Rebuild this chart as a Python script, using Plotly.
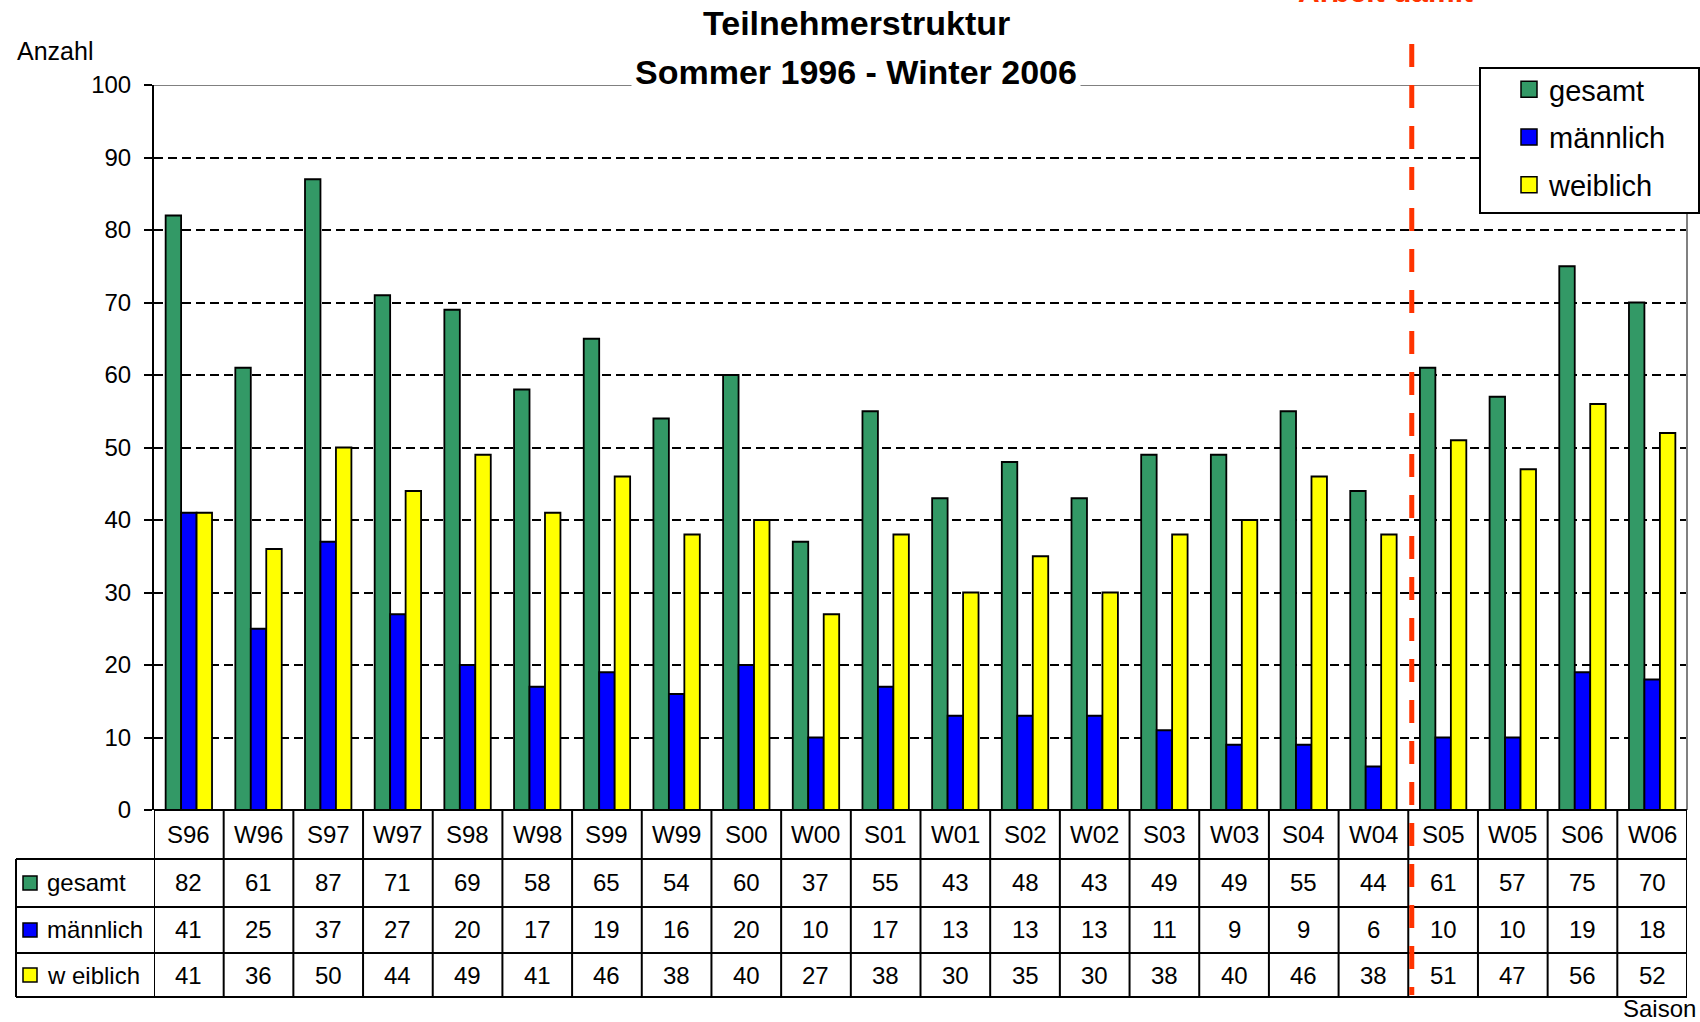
import plotly.graph_objects as go

categories = ["S96", "W96", "S97", "W97", "S98", "W98", "S99", "W99", "S00", "W00", "S01",
              "W01", "S02", "W02", "S03", "W03", "S04", "W04", "S05", "W05", "S06", "W06"]
gesamt = [82, 61, 87, 71, 69, 58, 65, 54, 60, 37, 55, 43, 48, 43, 49, 49, 55, 44, 61, 57, 75, 70]
maennlich = [41, 25, 37, 27, 20, 17, 19, 16, 20, 10, 17, 13, 13, 13, 11, 9, 9, 6, 10, 10, 19, 18]
weiblich = [41, 36, 50, 44, 49, 41, 46, 38, 40, 27, 38, 30, 35, 30, 38, 40, 46, 38, 51, 47, 56, 52]
series_names = ["gesamt", "männlich", "weiblich"]
table_labels = ["gesamt", "männlich", "w eiblich"]
series_colors = ["#339966", "#0000FF", "#FFFF00"]
y_ticks = [0, 10, 20, 30, 40, 50, 60, 70, 80, 90, 100]
marker_start = "S05"

W, H = 1700, 1022
L, R, T, B = 154, 13, 85, 212
PW, PH = W - L - R, H - T - B
FONT = "Liberation Sans, Arial, sans-serif"


def px_x(p):
    return (p - L) / PW


def px_y(p):
    return (H - B - p) / PH


fig = go.Figure()
for name, vals, col in zip(series_names, [gesamt, maennlich, weiblich], series_colors):
    fig.add_trace(go.Bar(
        x=categories, y=vals, name=name, legendgroup=name, showlegend=False,
        marker=dict(color=col, line=dict(color="black", width=1.8)),
    ))
# legend entries (square swatches)
for name, col in zip(series_names, series_colors):
    fig.add_trace(go.Scatter(
        x=[None], y=[None], mode="markers", name=name, legendgroup=name,
        marker=dict(symbol="square", size=16, color=col, line=dict(color="black", width=1.5)),
    ))

shapes = []
shapes.append(dict(type="line", xref="paper", yref="y", x0=0, x1=1, y0=100, y1=100,
                   line=dict(color="#808080", width=2), layer="above"))
shapes.append(dict(type="line", xref="paper", yref="paper", x0=1, x1=1, y0=0, y1=1,
                   line=dict(color="#808080", width=2), layer="above"))

row_edges = [810, 859, 907, 953, 997]
row_centers = [(row_edges[i] + row_edges[i + 1]) / 2 for i in range(4)]
tbl_left = px_x(16)
lw = 2
shapes.append(dict(type="line", xref="paper", yref="paper", x0=0, x1=1, y0=0, y1=0,
                   line=dict(color="black", width=lw), layer="above"))
for e in row_edges[1:]:
    shapes.append(dict(type="line", xref="paper", yref="paper", x0=tbl_left, x1=1,
                       y0=px_y(e), y1=px_y(e), line=dict(color="black", width=lw), layer="above"))
for i in range(len(categories) + 1):
    shapes.append(dict(type="line", xref="x", yref="paper", x0=i - 0.5, x1=i - 0.5,
                       y0=0, y1=px_y(row_edges[-1]), line=dict(color="black", width=lw), layer="above"))
shapes.append(dict(type="line", xref="paper", yref="paper", x0=tbl_left, x1=tbl_left,
                   y0=px_y(row_edges[1]), y1=px_y(row_edges[-1]), line=dict(color="black", width=lw),
                   layer="above"))
for k, col in enumerate(series_colors):
    yc = row_centers[k + 1]
    shapes.append(dict(type="rect", xref="paper", yref="paper", x0=px_x(23), x1=px_x(37),
                       y0=px_y(yc + 7), y1=px_y(yc - 7), fillcolor=col,
                       line=dict(color="black", width=1.5), layer="above"))

# legend box
shapes.append(dict(type="rect", xref="paper", yref="paper", x0=px_x(1480), x1=px_x(1699),
                   y0=px_y(213), y1=px_y(68), fillcolor="white",
                   line=dict(color="black", width=2), layer="above"))

# red dashed marker line
mx = categories.index(marker_start) - 0.45
shapes.append(dict(type="line", xref="x", yref="paper", x0=mx, x1=mx,
                   y0=px_y(44), y1=px_y(995),
                   line=dict(color="#FF3300", width=5, dash="23px,18px"), layer="above"))

annotations = []
for c in categories:
    annotations.append(dict(x=c, xref="x", y=px_y(row_centers[0]), yref="paper", text=c,
                            showarrow=False, xanchor="center", yanchor="middle",
                            font=dict(family=FONT, size=24, color="black")))
for k, vals in enumerate([gesamt, maennlich, weiblich]):
    for c, v in zip(categories, vals):
        annotations.append(dict(x=c, xref="x", y=px_y(row_centers[k + 1]), yref="paper",
                                text=str(v), showarrow=False, xanchor="center", yanchor="middle",
                                font=dict(family=FONT, size=24, color="black")))
    annotations.append(dict(x=px_x(45), xref="paper", y=px_y(row_centers[k + 1]), yref="paper",
                            text=table_labels[k], showarrow=False, xanchor="left", yanchor="middle",
                            font=dict(family=FONT, size=24, color="black")))

annotations.append(dict(x=px_x(856), xref="paper", y=px_y(23.5), yref="paper",
                        text="<b>Teilnehmerstruktur</b>", showarrow=False,
                        xanchor="center", yanchor="middle",
                        font=dict(family=FONT, size=34, color="black")))
annotations.append(dict(x=px_x(856), xref="paper", y=px_y(71.7), yref="paper",
                        text="<b>Sommer 1996 - Winter 2006</b>", showarrow=False,
                        xanchor="center", yanchor="middle", bgcolor="white", borderpad=3,
                        font=dict(family=FONT, size=34, color="black")))
annotations.append(dict(x=px_x(15), xref="paper", y=px_y(51), yref="paper",
                        text="Anzahl", showarrow=False, xanchor="left", yanchor="middle",
                        font=dict(family=FONT, size=25, color="black")))
annotations.append(dict(x=px_x(1698), xref="paper", y=px_y(1008), yref="paper",
                        text="Saison", showarrow=False, xanchor="right", yanchor="middle",
                        font=dict(family=FONT, size=24, color="black")))
annotations.append(dict(x=px_x(1385), xref="paper", y=px_y(10), yref="paper",
                        text="<b>Arbeit damit</b>", showarrow=False, xanchor="center",
                        yanchor="bottom",
                        font=dict(family=FONT, size=30, color="#FF3300")))

fig.update_layout(
    width=W, height=H,
    margin=dict(l=L, r=R, t=T, b=B, autoexpand=False),
    paper_bgcolor="white", plot_bgcolor="white",
    barmode="group", bargap=0.334, bargroupgap=0,
    font=dict(family=FONT, color="black"),
    showlegend=True,
    legend=dict(x=px_x(1509), y=px_y(64), xanchor="left", yanchor="top",
                bgcolor="rgba(0,0,0,0)", borderwidth=0,
                font=dict(family=FONT, size=29, color="black"),
                traceorder="grouped", tracegroupgap=7),
    shapes=shapes,
    annotations=annotations,
    xaxis=dict(type="category", range=[-0.5, len(categories) - 0.5], showticklabels=False,
               showgrid=False, showline=False, ticks="", zeroline=False, fixedrange=True),
    yaxis=dict(range=[0, 100], tickvals=y_ticks, ticks="outside", ticklen=8, tickwidth=1.5,
               tickcolor="black", showline=True, linecolor="black", linewidth=2,
               showgrid=True, gridcolor="black", gridwidth=1.5, griddash="9px,5px",
               zeroline=False, ticklabelstandoff=8,
               tickfont=dict(family=FONT, size=24, color="black"), fixedrange=True),
)

fig.write_html("out.html", config={"displayModeBar": False},
               post_script="document.body.style.margin='0';document.body.style.overflow='hidden';")
